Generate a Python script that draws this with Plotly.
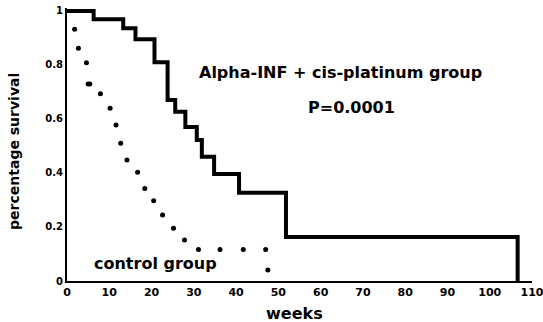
import plotly.graph_objects as go

# Alpha-INF + cis-platinum group (Kaplan-Meier step curve)
treat_weeks = [0, 6.3, 13.3, 16.2, 20.7, 23.8, 25.6, 28.0, 30.7, 31.9, 34.8, 40.7, 51.8, 106.6]
treat_surv = [1.0, 0.969, 0.936, 0.895, 0.81, 0.67, 0.627, 0.57, 0.522, 0.46, 0.396, 0.327, 0.163, 0.0]

# Control group (dotted curve)
ctrl_weeks = [1.8, 2.7, 4.6, 5.0, 5.4, 7.9, 10.2, 11.6, 12.7, 14.2, 16.7, 18.4, 20.5, 22.6,
              25.2, 27.8, 31.1, 36.2, 41.7, 47.0, 47.5]
ctrl_surv = [0.932, 0.862, 0.808, 0.73, 0.73, 0.693, 0.64, 0.578, 0.51, 0.448, 0.403, 0.343,
             0.297, 0.244, 0.195, 0.152, 0.117, 0.117, 0.117, 0.117, 0.041]

x_ticks = [0, 10, 20, 30, 40, 50, 60, 70, 80, 90, 100, 110]
y_ticks = [0, 0.2, 0.4, 0.6, 0.8, 1]

FONT = "DejaVu Sans"
BOLD = lambda s: dict(family=FONT, size=s, color="black", weight="bold")

fig = go.Figure()
fig.add_trace(go.Scatter(x=treat_weeks, y=treat_surv, mode="lines", line_shape="hv",
                         line=dict(color="black", width=4), showlegend=False))
fig.add_trace(go.Scatter(x=ctrl_weeks, y=ctrl_surv, mode="markers",
                         marker=dict(color="black", size=5, symbol="circle"),
                         showlegend=False, cliponaxis=False))

fig.add_annotation(x=64.7, y=0.774, text="Alpha-INF + cis-platinum group", showarrow=False,
                   font=BOLD(16))
fig.add_annotation(x=67.3, y=0.641, text="P=0.0001", showarrow=False, font=BOLD(16))
fig.add_annotation(x=20.9, y=0.063, text="control group", showarrow=False, font=BOLD(16))

# axis titles
fig.add_annotation(x=53.8, y=0, yref="paper", yanchor="middle", yshift=-32,
                   text="weeks", showarrow=False, font=BOLD(16))
fig.add_annotation(x=0, xref="paper", xanchor="center", xshift=-53, y=0.478,
                   text="percentage survival", textangle=-90, showarrow=False, font=BOLD(14))

fig.update_layout(
    width=543, height=322,
    margin=dict(l=67, r=11, t=8, b=41, autoexpand=False),
    paper_bgcolor="white", plot_bgcolor="white",
    xaxis=dict(range=[0, 110], tickvals=x_ticks, showgrid=False, zeroline=False,
               showline=True, linecolor="black", linewidth=2, ticks="", automargin=False,
               ticklabeloverflow="allow", tickfont=BOLD(11)),
    yaxis=dict(range=[0, 1.011], tickvals=y_ticks, showgrid=False, zeroline=False,
               showline=True, linecolor="black", linewidth=2, ticks="", automargin=False,
               ticklabeloverflow="allow", tickfont=BOLD(10)),
)

fig.write_html("out.html", post_script="document.body.style.margin='0';",
               config={"displayModeBar": False})
